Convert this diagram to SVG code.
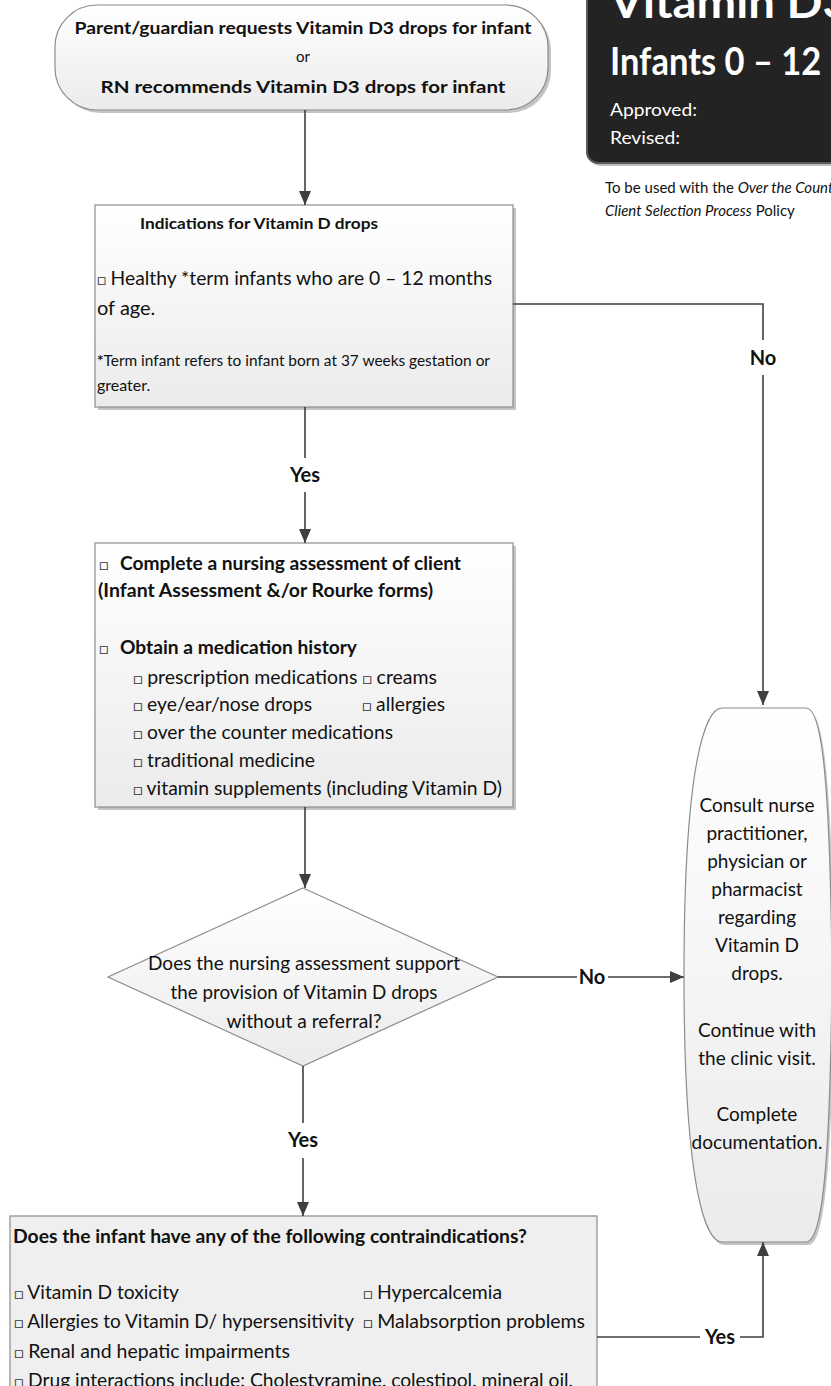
<svg xmlns="http://www.w3.org/2000/svg" width="831" height="1386" viewBox="0 0 831 1386">
<defs>
<linearGradient id="g" x1="0" y1="0" x2="0" y2="1"><stop offset="0" stop-color="#ffffff"/><stop offset="1" stop-color="#ebebeb"/></linearGradient>
<marker id="ar" viewBox="0 0 14 12" markerWidth="14" markerHeight="12" refX="14" refY="6" orient="auto" markerUnits="userSpaceOnUse"><path d="M0,0 L14,6 L0,12 Z" fill="#3f3f3f"/></marker>
</defs>
<style>
text{font-family:Lato,"Liberation Sans",sans-serif;fill:#111}
.b{font-weight:bold}
.shape{fill:url(#g);stroke:#8c8c8c;stroke-width:1.2}
.sh{fill:#c4c4c4}
.c{fill:none;stroke:#3f3f3f;stroke-width:1.6}
.lbl{font-weight:bold;font-size:20px;text-anchor:middle}
.n{font-size:19px;text-anchor:middle}
.sq{font-size:15px;fill:#333}
</style>
<rect width="831" height="1386" fill="#fff"/>

<g id="header">
<rect x="590" y="-20" width="260" height="186" rx="11" fill="#bdbdbd"/>
<rect x="587" y="-20" width="260" height="183" rx="11" fill="#232323" stroke="#5a5a5a" stroke-width="2"/>
<text x="610" y="18" class="b" style="font-size:44px;fill:#fff" textLength="240" lengthAdjust="spacingAndGlyphs">Vitamin D3</text>
<text x="610" y="75" class="b" style="font-size:38px;fill:#fff" textLength="335" lengthAdjust="spacingAndGlyphs">Infants 0 – 12 months</text>
<text x="610" y="116" style="font-size:18px;fill:#fff" textLength="87" lengthAdjust="spacingAndGlyphs">Approved:</text>
<text x="610" y="144" style="font-size:18px;fill:#fff" textLength="70" lengthAdjust="spacingAndGlyphs">Revised:</text>
<text x="605" y="193" style="font-size:15px">To be used with the <tspan font-style="italic">Over the Counter</tspan></text>
<text x="605" y="216" style="font-size:15px"><tspan font-style="italic">Client Selection Process</tspan> Policy</text>
</g>

<g id="start">
<rect x="58" y="8" width="493" height="105" rx="42" class="sh"/>
<rect x="55" y="5" width="493" height="105" rx="42" class="shape"/>
<text x="303" y="34" class="b" text-anchor="middle" style="font-size:17px" textLength="457" lengthAdjust="spacingAndGlyphs">Parent/guardian requests Vitamin D3 drops for infant</text>
<text x="303" y="62" text-anchor="middle" style="font-size:15px">or</text>
<text x="303" y="93" class="b" text-anchor="middle" style="font-size:17px" textLength="405" lengthAdjust="spacingAndGlyphs">RN recommends Vitamin D3 drops for infant</text>
</g>

<g id="indications">
<rect x="98" y="208" width="418" height="202" class="sh"/>
<rect x="95" y="205" width="418" height="202" class="shape"/>
<text x="140" y="229" class="b" style="font-size:16px" textLength="238" lengthAdjust="spacingAndGlyphs">Indications for Vitamin D drops</text>
<text x="97" y="285" style="font-size:20px" textLength="395" lengthAdjust="spacingAndGlyphs"><tspan class="sq">□</tspan> Healthy *term infants who are 0 – 12 months</text>
<text x="97" y="315" style="font-size:20px">of age.</text>
<text x="97" y="366" style="font-size:16px" textLength="393" lengthAdjust="spacingAndGlyphs"><tspan class="b">*</tspan>Term infant refers to infant born at 37 weeks gestation or</text>
<text x="97" y="391" style="font-size:16px">greater.</text>
</g>

<g id="assessment">
<rect x="98" y="546" width="418" height="264" class="sh"/>
<rect x="95" y="543" width="418" height="264" class="shape"/>
<text x="99" y="570" class="sq">□</text>
<text x="120" y="570" class="b" style="font-size:19px" textLength="341" lengthAdjust="spacingAndGlyphs">Complete a nursing assessment of client</text>
<text x="98" y="597" class="b" style="font-size:19px" textLength="335" lengthAdjust="spacingAndGlyphs">(Infant Assessment &amp;/or Rourke forms)</text>
<text x="99" y="654" class="sq">□</text>
<text x="120" y="654" class="b" style="font-size:19px" textLength="237" lengthAdjust="spacingAndGlyphs">Obtain a medication history</text>
<text x="133" y="684" style="font-size:19px" textLength="304" lengthAdjust="spacingAndGlyphs"><tspan class="sq">□</tspan> prescription medications <tspan class="sq">□</tspan> creams</text>
<text x="133" y="711" style="font-size:19px" textLength="179" lengthAdjust="spacingAndGlyphs"><tspan class="sq">□</tspan> eye/ear/nose drops</text>
<text x="362" y="711" style="font-size:19px" textLength="83" lengthAdjust="spacingAndGlyphs"><tspan class="sq">□</tspan> allergies</text>
<text x="133" y="739" style="font-size:19px" textLength="260" lengthAdjust="spacingAndGlyphs"><tspan class="sq">□</tspan> over the counter medications</text>
<text x="133" y="767" style="font-size:19px" textLength="182" lengthAdjust="spacingAndGlyphs"><tspan class="sq">□</tspan> traditional medicine</text>
<text x="133" y="795" style="font-size:19px" textLength="369" lengthAdjust="spacingAndGlyphs"><tspan class="sq">□</tspan> vitamin supplements (including Vitamin D)</text>
</g>

<g id="decision">
<polygon points="303,888 498,977 303,1066 108,977" class="shape"/>
<text x="304" y="970" class="n" textLength="312" lengthAdjust="spacingAndGlyphs">Does the nursing assessment support</text>
<text x="304" y="999" class="n" textLength="267" lengthAdjust="spacingAndGlyphs">the provision of Vitamin D drops</text>
<text x="304" y="1028" class="n" textLength="155" lengthAdjust="spacingAndGlyphs">without a referral?</text>
</g>

<g id="consult">
<path d="M722,708 L806,708 C820,708 830,760 832,975 C830,1190 820,1242 806,1242 L722,1242 C706,1242 684,1190 684,975 C684,760 706,708 722,708 Z" fill="#c4c4c4" transform="translate(2,3)"/>
<path d="M722,708 L806,708 C820,708 830,760 832,975 C830,1190 820,1242 806,1242 L722,1242 C706,1242 684,1190 684,975 C684,760 706,708 722,708 Z" class="shape"/>
<text x="757" y="812" class="n">Consult nurse</text>
<text x="757" y="840" class="n">practitioner,</text>
<text x="757" y="868" class="n">physician or</text>
<text x="757" y="896" class="n">pharmacist</text>
<text x="757" y="924" class="n">regarding</text>
<text x="757" y="952" class="n">Vitamin D</text>
<text x="757" y="980" class="n">drops.</text>
<text x="757" y="1037" class="n">Continue with</text>
<text x="757" y="1065" class="n">the clinic visit.</text>
<text x="757" y="1121" class="n">Complete</text>
<text x="757" y="1149" class="n">documentation.</text>
</g>

<g id="contraindications">
<rect x="10" y="1216" width="587" height="200" fill="#efefef" stroke="#8c8c8c" stroke-width="1.2"/>
<text x="13" y="1243" class="b" style="font-size:19px" textLength="514" lengthAdjust="spacingAndGlyphs">Does the infant have any of the following contraindications?</text>
<text x="14" y="1299" style="font-size:19px" textLength="165" lengthAdjust="spacingAndGlyphs"><tspan class="sq">□</tspan> Vitamin D toxicity</text>
<text x="363" y="1299" style="font-size:19px" textLength="139" lengthAdjust="spacingAndGlyphs"><tspan class="sq">□</tspan> Hypercalcemia</text>
<text x="14" y="1328" style="font-size:19px" textLength="340" lengthAdjust="spacingAndGlyphs"><tspan class="sq">□</tspan> Allergies to Vitamin D/ hypersensitivity</text>
<text x="363" y="1328" style="font-size:19px" textLength="222" lengthAdjust="spacingAndGlyphs"><tspan class="sq">□</tspan> Malabsorption problems</text>
<text x="14" y="1358" style="font-size:19px" textLength="276" lengthAdjust="spacingAndGlyphs"><tspan class="sq">□</tspan> Renal and hepatic impairments</text>
<text x="14" y="1387" style="font-size:19px" textLength="559" lengthAdjust="spacingAndGlyphs"><tspan class="sq">□</tspan> Drug interactions include: Cholestyramine, colestipol, mineral oil,</text>
</g>

<g id="connectors">
<path d="M305,110 V205" class="c" marker-end="url(#ar)"/>
<path d="M513,304 H763 V340" class="c"/>
<path d="M763,375 V705" class="c" marker-end="url(#ar)"/>
<text x="763" y="365" class="lbl">No</text>
<path d="M305,407 V458" class="c"/>
<path d="M305,492 V543" class="c" marker-end="url(#ar)"/>
<text x="305" y="482" class="lbl">Yes</text>
<path d="M305,807 V888" class="c" marker-end="url(#ar)"/>
<path d="M498,977 H577" class="c"/>
<path d="M608,977 H684" class="c" marker-end="url(#ar)"/>
<text x="592" y="984" class="lbl">No</text>
<path d="M303,1066 V1123" class="c"/>
<path d="M303,1158 V1216" class="c" marker-end="url(#ar)"/>
<text x="303" y="1147" class="lbl">Yes</text>
<path d="M597,1337 H700" class="c"/>
<path d="M740,1337 H763 V1242" class="c" marker-end="url(#ar)"/>
<text x="720" y="1344" class="lbl">Yes</text>
</g>
</svg>
